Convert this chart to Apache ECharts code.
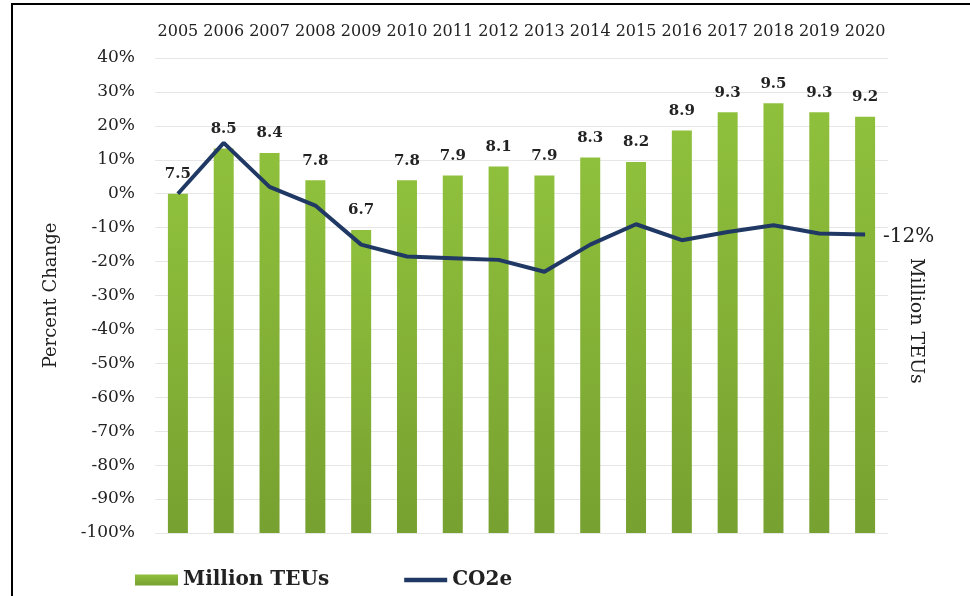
<!DOCTYPE html>
<html lang="en">
<head>
    <meta charset="UTF-8">
    <title>Million TEUs and CO2e</title>
    <script src="https://cdn.jsdelivr.net/npm/echarts@6/dist/echarts.min.js"></script>
    <style type="text/css">
    html, body { margin: 0; padding: 0; background: #fff; }
    #main { width: 970px; height: 596px; }
    </style>
</head>
<body>
    <div id="main"></div>
    <script type="text/javascript">
        // 年份
        var years = ['2005', '2006', '2007', '2008', '2009', '2010', '2011', '2012',
                     '2013', '2014', '2015', '2016', '2017', '2018', '2019', '2020'];
        // 集装箱吞吐量（百万TEU）
        var teus = [7.5, 8.5, 8.4, 7.8, 6.7, 7.8, 7.9, 8.1, 7.9, 8.3, 8.2, 8.9, 9.3, 9.5, 9.3, 9.2];
        // CO2e 变化百分比
        var co2e = [0, 15, 2, -3.5, -15, -18.5, -19, -19.5, -23, -15, -9, -13.7, -11.3, -9.3, -11.7, -12];

        var serif = 'DejaVu Serif';
        var textColor = '#222';

        var myChart = echarts.init(document.getElementById('main'));

        var option = {
            backgroundColor: '#fff',
            animation: false,
            textStyle: { fontFamily: serif, color: textColor },
            grid: { left: 155, right: 82, top: 58, bottom: 63 },
            legend: {
                left: 130,
                top: 565,
                itemWidth: 43,
                itemHeight: 11,
                itemGap: 75,
                textStyle: { fontFamily: serif, fontSize: 20, fontWeight: 'bold', color: textColor },
                data: [
                    { name: 'Million TEUs', icon: 'rect' },
                    { name: 'CO2e', icon: 'path://M0,0 L40,0 L40,4 L0,4 Z' }
                ]
            },
            xAxis: [{
                type: 'category',
                position: 'top',
                data: years,
                axisLine: { show: false },
                axisTick: { show: false },
                axisLabel: { interval: 0, margin: 18, fontFamily: serif, fontSize: 16, color: textColor }
            }],
            yAxis: [{
                type: 'value',
                min: -100,
                max: 40,
                interval: 10,
                name: 'Percent Change',
                nameLocation: 'middle',
                nameGap: 95,
                nameTextStyle: { fontFamily: serif, fontSize: 18, color: textColor },
                axisLine: { show: false },
                axisTick: { show: false },
                axisLabel: { margin: 20, formatter: '{value}%', fontFamily: serif, fontSize: 17, color: textColor },
                splitLine: { lineStyle: { color: '#e6e6e6', width: 1 } }
            }, {
                type: 'value',
                show: false,
                min: 0,
                max: 10.5,
                splitLine: { show: false }
            }],
            series: [{
                name: 'Million TEUs',
                type: 'bar',
                yAxisIndex: 1,
                data: teus,
                barWidth: 20,
                itemStyle: {
                    color: new echarts.graphic.LinearGradient(0, 0, 0, 1, [
                        { offset: 0, color: '#8fc03c' },
                        { offset: 1, color: '#77a130' }
                    ])
                },
                label: {
                    show: true,
                    position: 'top',
                    distance: 12,
                    fontFamily: serif,
                    fontSize: 15,
                    fontWeight: 'bold',
                    color: textColor
                }
            }, {
                name: 'CO2e',
                type: 'line',
                data: co2e,
                symbol: 'none',
                lineStyle: { color: '#203864', width: 4 },
                itemStyle: { color: '#203864' },
                endLabel: {
                    show: true,
                    distance: 18,
                    offset: [0, 2],
                    formatter: function(p) { return Math.round(p.value) + '%'; },
                    fontFamily: serif,
                    fontSize: 20,
                    color: textColor
                },
                z: 3
            }],
            graphic: [{
                type: 'text',
                left: 906,
                top: 258,
                rotation: -Math.PI / 2,
                style: { text: 'Million TEUs', fontFamily: serif, fontSize: 19, fill: textColor }
            }, {
                type: 'line',
                shape: { x1: 12, y1: 3, x2: 12, y2: 596 },
                style: { stroke: '#000', lineWidth: 2 }
            }, {
                type: 'line',
                shape: { x1: 11, y1: 4, x2: 970, y2: 4 },
                style: { stroke: '#000', lineWidth: 2 }
            }]
        };

        myChart.setOption(option);
    </script>
</body>
</html>
